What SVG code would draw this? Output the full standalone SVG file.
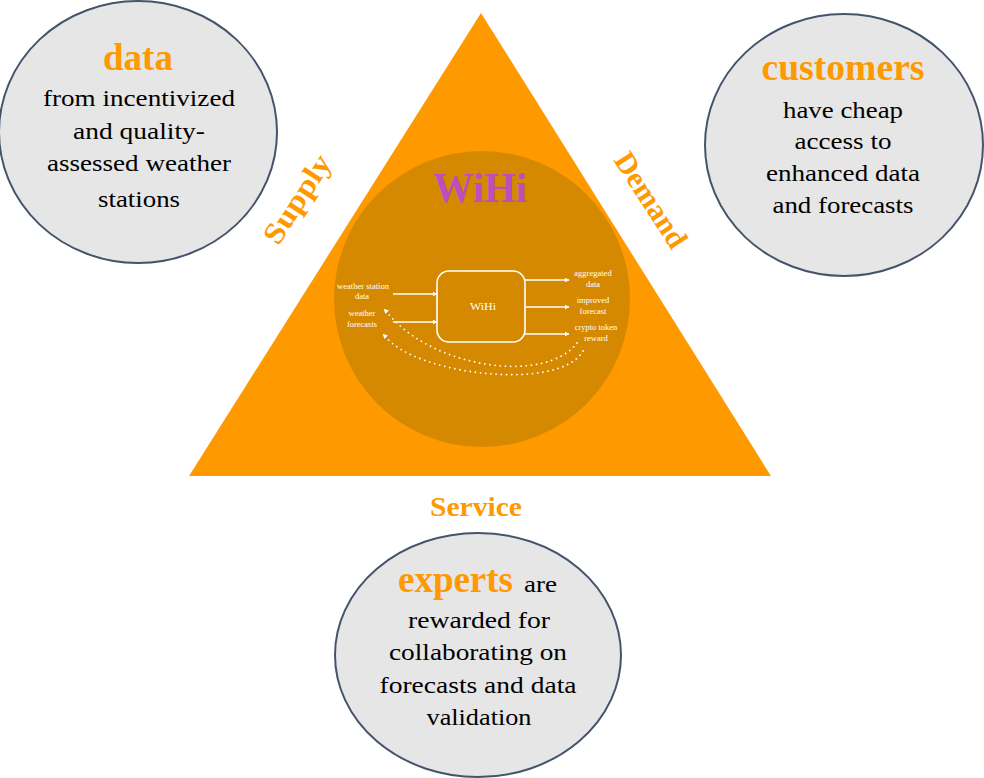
<svg xmlns="http://www.w3.org/2000/svg" width="984" height="778" viewBox="0 0 984 778">
<style>
.bub{fill:#E6E6E6;stroke:#44546A;stroke-width:2}
.head{font-family:"Liberation Serif",serif;font-weight:bold;fill:#FF9900;text-anchor:middle}
.body{font-family:"Liberation Serif",serif;font-size:24px;fill:#000;text-anchor:middle}
.side{font-family:"Liberation Serif",serif;font-weight:bold;font-size:30px;fill:#FF9900;text-anchor:middle}
.sm{font-family:"Liberation Serif",serif;font-size:8.5px;fill:#fff;text-anchor:middle}
.wl{stroke:#fff;stroke-width:1.6;fill:none}
.dot{stroke:#fff;stroke-width:1.8;fill:none;stroke-dasharray:0 5.2;stroke-linecap:round}
</style>
<defs>
<marker id="ah" viewBox="0 0 10 10" refX="9" refY="5" markerWidth="5" markerHeight="5" orient="auto" markerUnits="userSpaceOnUse">
<path d="M0,0 L10,5 L0,10 z" fill="#fff"/>
</marker>
</defs>
<rect width="984" height="778" fill="#fff"/>
<g id="triangle">
<polygon points="481,13 771,476 189,476" fill="#FF9900"/>
<text class="side" transform="translate(297,199) rotate(-57)" y="10" textLength="100" lengthAdjust="spacingAndGlyphs">Supply</text>
<text class="side" transform="translate(651,200) rotate(57)" y="10" textLength="108" lengthAdjust="spacingAndGlyphs">Demand</text>
<text class="side" x="476" y="516" textLength="92" lengthAdjust="spacingAndGlyphs" style="font-size:27px">Service</text>
</g>
<g id="wihi">
<circle cx="482" cy="299" r="148" fill="#D58900"/>
<text class="head" x="480" y="202" style="font-size:42px;fill:#BB4FBB" textLength="94" lengthAdjust="spacingAndGlyphs">WiHi</text>
</g>
<g id="process">
<rect x="437" y="271" width="88" height="71" rx="12" ry="12" class="wl"/>
<text class="sm" x="483" y="310" style="font-size:10px" textLength="26" lengthAdjust="spacingAndGlyphs">WiHi</text>
</g>
<g id="in-labels">
<text class="sm" x="363" y="289" textLength="52" lengthAdjust="spacingAndGlyphs">weather station</text>
<text class="sm" x="362" y="299">data</text>
<text class="sm" x="362" y="316">weather</text>
<text class="sm" x="362" y="327">forecasts</text>
</g>
<g id="out-labels">
<text class="sm" x="593" y="276">aggregated</text>
<text class="sm" x="593" y="287">data</text>
<text class="sm" x="593" y="303">improved</text>
<text class="sm" x="593" y="314">forecast</text>
<text class="sm" x="596" y="330">crypto token</text>
<text class="sm" x="596" y="341">reward</text>
</g>
<g id="connectors">
<line x1="393" y1="294" x2="437" y2="294" class="wl" marker-end="url(#ah)"/>
<line x1="393" y1="322" x2="437" y2="322" class="wl" marker-end="url(#ah)"/>
<line x1="525" y1="280" x2="569" y2="280" class="wl" marker-end="url(#ah)"/>
<line x1="525" y1="307" x2="569" y2="307" class="wl" marker-end="url(#ah)"/>
<line x1="525" y1="334" x2="569" y2="334" class="wl" marker-end="url(#ah)"/>
<path d="M577,343 C545,385 430,368 386,311" class="dot"/>
<path d="M392,317 L384,309" stroke="none" fill="none" marker-end="url(#ah)"/>
<path d="M583,351 C560,392 415,375 385,336" class="dot"/>
<path d="M391,342 L383,334" stroke="none" fill="none" marker-end="url(#ah)"/>
</g>
<g id="data">
<ellipse cx="138" cy="132" rx="139" ry="131" class="bub"/>
<text class="head" x="138" y="70" style="font-size:37px">data</text>
<text class="body" x="139" y="106" textLength="192" lengthAdjust="spacingAndGlyphs">from incentivized</text>
<text class="body" x="139" y="139" textLength="132" lengthAdjust="spacingAndGlyphs">and quality-</text>
<text class="body" x="139" y="171" textLength="184" lengthAdjust="spacingAndGlyphs">assessed weather</text>
<text class="body" x="139" y="207" textLength="82" lengthAdjust="spacingAndGlyphs">stations</text>
</g>
<g id="customers">
<ellipse cx="844" cy="145" rx="139" ry="131" class="bub"/>
<text class="head" x="843" y="80" style="font-size:37px" textLength="163" lengthAdjust="spacingAndGlyphs">customers</text>
<text class="body" x="843" y="118" textLength="120" lengthAdjust="spacingAndGlyphs">have cheap</text>
<text class="body" x="843" y="149" textLength="97" lengthAdjust="spacingAndGlyphs">access to</text>
<text class="body" x="843" y="181" textLength="154" lengthAdjust="spacingAndGlyphs">enhanced data</text>
<text class="body" x="843" y="213" textLength="141" lengthAdjust="spacingAndGlyphs">and forecasts</text>
</g>
<g id="experts">
<ellipse cx="478" cy="655" rx="143" ry="122" class="bub"/>
<text x="398" y="592" style="font-family:'Liberation Serif',serif"><tspan style="font-weight:bold;font-size:37px;fill:#FF9900" textLength="115" lengthAdjust="spacingAndGlyphs">experts</tspan><tspan style="font-size:24px;fill:#000" dx="11" textLength="33" lengthAdjust="spacingAndGlyphs">are</tspan></text>
<text class="body" x="479" y="628" textLength="142" lengthAdjust="spacingAndGlyphs">rewarded for</text>
<text class="body" x="478" y="660" textLength="178" lengthAdjust="spacingAndGlyphs">collaborating on</text>
<text class="body" x="478" y="693" textLength="197" lengthAdjust="spacingAndGlyphs">forecasts and data</text>
<text class="body" x="479" y="725" textLength="105" lengthAdjust="spacingAndGlyphs">validation</text>
</g>
</svg>
